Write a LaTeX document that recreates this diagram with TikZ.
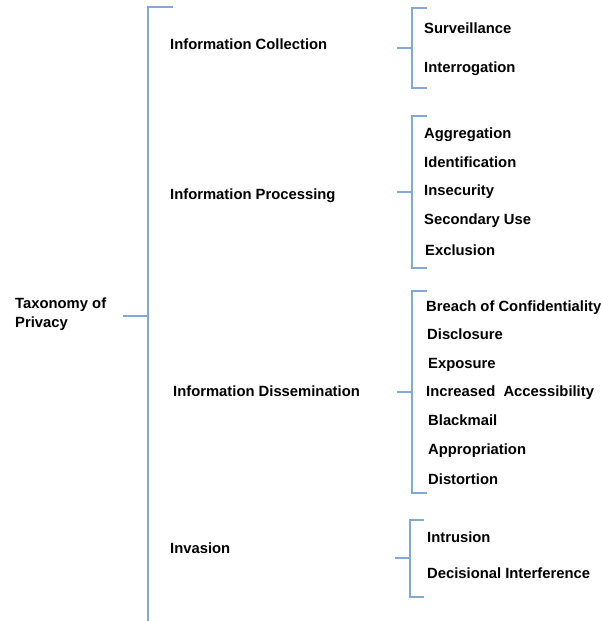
\documentclass[tikz,border=0pt]{standalone}
\usepackage{fontspec}
\setmainfont{Liberation Sans}
\definecolor{brk}{RGB}{130,168,216}
\begin{document}
\begin{tikzpicture}[x=1pt,y=-1pt,
  lbl/.style={anchor=west,inner sep=0pt,text height=0.72em,text depth=0.2em,yshift=-2.5pt,font=\bfseries\fontsize{14.8}{19}\selectfont},
  brline/.style={draw=brk,line width=1.5pt}]
\useasboundingbox (0,0) rectangle (601,621);
% root
\node[anchor=west,inner sep=0pt,align=left,font=\bfseries\fontsize{14.8}{19}\selectfont] (root) at (15,314) {Taxonomy of\\Privacy};
% main bracket
\coordinate (mstem) at (123,316);
\coordinate (mj) at (148,316);
\coordinate (mtop) at (148,7);
\coordinate (mtopt) at (173,7);
\coordinate (mbot) at (148,621);
\draw[brline] (mstem) -- (mj);
\draw[brline] (mtopt) -- (mtop) -- (mbot);
% categories
\node[lbl] (c1) at (170,44) {Information Collection};
\node[lbl] (c2) at (170,194) {Information Processing};
\node[lbl] (c3) at (173,391) {Information Dissemination};
\node[lbl] (c4) at (170,548) {Invasion};
% sub bracket 1
\coordinate (s1) at (397,48); \coordinate (j1) at (412,48);
\coordinate (t1a) at (427,8); \coordinate (t1b) at (412,8);
\coordinate (b1a) at (412,88); \coordinate (b1b) at (427,88);
\draw[brline] (s1) -- (j1);
\draw[brline] (t1a) -- (t1b) -- (b1a) -- (b1b);
% sub bracket 2
\coordinate (s2) at (397,192); \coordinate (j2) at (412,192);
\coordinate (t2a) at (427,116); \coordinate (t2b) at (412,116);
\coordinate (b2a) at (412,268); \coordinate (b2b) at (427,268);
\draw[brline] (s2) -- (j2);
\draw[brline] (t2a) -- (t2b) -- (b2a) -- (b2b);
% sub bracket 3
\coordinate (s3) at (397,392); \coordinate (j3) at (412,392);
\coordinate (t3a) at (427,291); \coordinate (t3b) at (412,291);
\coordinate (b3a) at (412,493); \coordinate (b3b) at (427,493);
\draw[brline] (s3) -- (j3);
\draw[brline] (t3a) -- (t3b) -- (b3a) -- (b3b);
% sub bracket 4
\coordinate (s4) at (395,558); \coordinate (j4) at (410,558);
\coordinate (t4a) at (424,520); \coordinate (t4b) at (410,520);
\coordinate (b4a) at (410,597); \coordinate (b4b) at (424,597);
\draw[brline] (s4) -- (j4);
\draw[brline] (t4a) -- (t4b) -- (b4a) -- (b4b);
% leaves
\node[lbl] (l11) at (424,28) {Surveillance};
\node[lbl] (l12) at (424,67) {Interrogation};
\node[lbl] (l21) at (424,133) {Aggregation};
\node[lbl] (l22) at (424,162) {Identification};
\node[lbl] (l23) at (424,190) {Insecurity};
\node[lbl] (l24) at (424,219) {Secondary Use};
\node[lbl] (l25) at (425,250) {Exclusion};
\node[lbl] (l31) at (426,306) {Breach of Confidentiality};
\node[lbl] (l32) at (427,334) {Disclosure};
\node[lbl] (l33) at (428,363) {Exposure};
\node[lbl] (l34) at (426,391) {Increased\ \ Accessibility};
\node[lbl] (l35) at (428,420) {Blackmail};
\node[lbl] (l36) at (428,449) {Appropriation};
\node[lbl] (l37) at (428,479) {Distortion};
\node[lbl] (l41) at (427,537) {Intrusion};
\node[lbl] (l42) at (427,573) {Decisional Interference};
\end{tikzpicture}
\end{document}
